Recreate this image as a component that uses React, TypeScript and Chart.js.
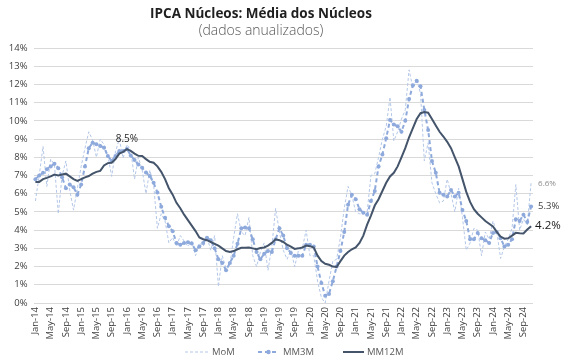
import { useEffect, useRef } from "react";
import { Chart, registerables } from "chart.js";

Chart.register(...registerables);

// ---------- data ----------
const MONTHS = ["Jan", "Feb", "Mar", "Apr", "May", "Jun", "Jul", "Aug", "Sep", "Oct", "Nov", "Dec"];
const YEARS = ["14", "15", "16", "17", "18", "19", "20", "21", "22", "23", "24"];
const LAST_MONTH_2024 = 11; // series ends Nov-24
const categories: string[] = [];
YEARS.forEach((yy, yi) => {
  const n = yi === YEARS.length - 1 ? LAST_MONTH_2024 : 12;
  for (let m = 0; m < n; m++) categories.push(`${MONTHS[m]}-${yy}`);
});

const yTickValues = [0, 1, 2, 3, 4, 5, 6, 7, 8, 9, 10, 11, 12, 13, 14];

const momValues = [
  5.6, 7.0, 8.6, 6.4, 7.9, 7.6, 4.9, 7.0, 7.8, 6.2, 5.1, 6.3,
  7.5, 8.5, 9.4, 8.95, 8.0, 9.0, 8.7, 8.1, 6.95, 8.3, 9.0, 7.95,
  8.7, 8.4, 6.8, 8.0, 7.3, 6.0, 7.3, 6.5, 4.1, 4.9, 4.5, 3.3,
  3.6, 3.1, 3.7, 3.4, 3.1, 3.4, 2.6, 3.3, 3.1, 3.6, 2.9, 3.7,
  0.9, 2.6, 1.9, 2.1, 3.6, 4.9, 3.9, 3.7, 4.7, 2.6, 2.0, 2.8,
  3.3, 1.8, 3.1, 5.2, 3.9, 2.9, 2.4, 2.9, 2.0, 2.9, 3.0, 4.0,
  2.6, 2.6, 1.2, 0.3, 0.0, 1.2, 2.3, 2.4, 3.6, 5.2, 6.4, 5.9,
  5.0, 4.9, 4.9, 5.0, 7.0, 7.1, 8.0, 9.0, 9.7, 11.3, 8.9, 9.4,
  10.1, 10.6, 12.8, 11.8, 12.3, 11.5, 7.8, 8.8, 6.6, 6.0, 5.5, 5.6,
  6.8, 6.0, 5.0, 6.3, 4.7, 2.9, 3.3, 4.1, 4.0, 2.6, 3.9, 3.5,
  4.5, 3.9, 2.45, 3.1, 3.5, 4.1, 6.5, 4.0, 4.6, 4.3, 6.6,
];

const mm3mValues = [
  6.8, 7.0, 7.15, 7.35, 7.5, 7.65, 7.4, 6.9, 6.3, 6.5, 6.35, 5.95,
  6.5, 7.5, 8.5, 8.8, 8.72, 8.62, 8.53, 8.07, 7.8, 8.07, 8.35, 8.35,
  8.45, 8.1, 7.85, 7.6, 7.43, 7.16, 6.97, 6.6, 6.06, 5.28, 4.68, 4.22,
  3.94, 3.3, 3.2, 3.3, 3.34, 3.27, 2.9, 3.1, 3.3, 3.58, 3.45, 3.0,
  2.4, 2.2, 1.8, 2.2, 2.6, 3.25, 4.1, 4.15, 4.1, 3.5, 2.8, 2.4,
  2.7, 2.85, 2.8, 3.5, 4.1, 3.7, 3.0, 2.75, 2.6, 2.6, 2.6, 3.2,
  3.2, 3.1, 2.0, 1.1, 0.4, 0.5, 1.2, 2.0, 2.85, 3.9, 5.4, 5.95,
  5.7, 5.15, 4.95, 4.85, 5.6, 6.15, 7.5, 8.15, 9.05, 10.05, 9.8, 9.7,
  9.4, 10.0, 11.2, 11.95, 12.2, 11.9, 10.6, 9.5, 7.8, 7.15, 6.05, 5.95,
  5.85, 6.2, 5.85, 6.05, 5.1, 4.5, 3.5, 3.5, 3.85, 3.55, 3.45, 3.3,
  3.85, 3.9, 3.55, 3.1, 3.2, 3.5, 4.6, 4.5, 4.85, 4.45, 5.3,
];

const mm12mValues = [
  6.65, 6.65, 6.8, 6.87, 6.95, 7.05, 7.0, 7.05, 7.1, 6.95, 6.8, 6.7,
  6.8, 6.9, 6.97, 7.1, 7.2, 7.25, 7.55, 7.68, 7.7, 7.9, 8.2, 8.3,
  8.45, 8.35, 8.2, 8.08, 8.07, 7.9, 7.75, 7.7, 7.5, 7.2, 6.8, 6.3,
  5.95, 5.5, 5.2, 4.85, 4.55, 4.25, 3.95, 3.6, 3.5, 3.45, 3.35, 3.25,
  3.15, 3.0, 2.85, 2.8, 2.85, 2.95, 3.03, 3.03, 3.05, 3.0, 2.95, 3.02,
  3.05, 3.15, 3.3, 3.5, 3.45, 3.35, 3.2, 3.1, 2.97, 3.0, 3.05, 3.15,
  3.12, 3.05, 2.6, 2.3, 2.15, 2.1, 2.0, 1.98, 2.3, 2.6, 2.8, 2.95,
  3.05, 3.3, 3.7, 4.3, 4.8, 5.35, 5.7, 6.15, 6.6, 6.95, 7.15, 7.5,
  8.0, 8.5, 9.1, 9.6, 10.1, 10.42, 10.48, 10.45, 10.1, 9.75, 9.4, 9.14,
  8.85, 8.5, 8.0, 7.5, 6.8, 6.1, 5.55, 5.15, 4.9, 4.7, 4.5, 4.35,
  4.2, 3.9, 3.65, 3.53, 3.55, 3.7, 3.85, 3.83, 3.82, 4.03, 4.22,
];

const TITLE = "IPCA Núcleos: Média dos Núcleos";
const SUBTITLE = "(dados anualizados)";
const seriesNames = ["MoM", "MM3M", "MM12M"];
const peakIndex = 24;
const peakText = "8.5%";

// ---------- styles ----------
const FONT = "'Open Sans', 'Noto Sans', sans-serif";
const C_MOM = "#B4C7E7";
const C_MM3M = "#8EA9DB";
const C_MM12M = "#44546A";
const C_TEXT = "#595959";
const C_TICK = "#404040";

const pct = (v: number) => `${v.toFixed(1)}%`;

const overlay = {
  id: "overlay",
  afterDraw(chart: any) {
    const { ctx } = chart;
    const x = chart.scales.x;
    const y = chart.scales.y;
    ctx.save();

    // title + subtitle
    ctx.textAlign = "center";
    ctx.textBaseline = "middle";
    ctx.fillStyle = "#1f1f1f";
    ctx.font = `bold 13.5px ${FONT}`;
    ctx.fillText(TITLE, 261, 14);
    ctx.fillStyle = C_TEXT;
    ctx.font = `300 14px ${FONT}`;
    ctx.fillText(SUBTITLE, 261, 31);

    // peak label on MM12M
    ctx.fillStyle = "#262626";
    ctx.font = `10px ${FONT}`;
    ctx.textBaseline = "bottom";
    ctx.fillText(peakText, x.getPixelForValue(peakIndex), y.getPixelForValue(mm12mValues[peakIndex]) - 5);

    // end labels
    const last = categories.length - 1;
    ctx.textAlign = "left";
    ctx.textBaseline = "middle";
    const endX = x.getPixelForValue(last);
    ctx.fillStyle = "#8C8C8C";
    ctx.font = `8px ${FONT}`;
    ctx.fillText(pct(momValues[last]), endX + 7, y.getPixelForValue(momValues[last]) + 1);
    ctx.fillStyle = "#404040";
    ctx.font = `9.5px ${FONT}`;
    ctx.fillText(pct(mm3mValues[last]), endX + 7, y.getPixelForValue(mm3mValues[last]));
    ctx.fillStyle = "#1a1a1a";
    ctx.font = `11.5px ${FONT}`;
    ctx.fillText(pct(mm12mValues[last]), endX + 4, y.getPixelForValue(mm12mValues[last]));

    // legend
    const ly = 352;
    ctx.font = `9.5px ${FONT}`;
    ctx.fillStyle = C_TEXT;
    ctx.textBaseline = "middle";
    // MoM
    ctx.strokeStyle = C_MOM;
    ctx.lineWidth = 1;
    ctx.setLineDash([3, 2]);
    ctx.beginPath();
    ctx.moveTo(185, ly);
    ctx.lineTo(208, ly);
    ctx.stroke();
    ctx.fillText(seriesNames[0], 212, ly);
    // MM3M
    ctx.strokeStyle = C_MM3M;
    ctx.lineWidth = 2;
    ctx.setLineDash([4, 3]);
    ctx.beginPath();
    ctx.moveTo(258, ly);
    ctx.lineTo(279, ly);
    ctx.stroke();
    ctx.setLineDash([]);
    ctx.fillStyle = C_MM3M;
    ctx.beginPath();
    ctx.arc(268.5, ly, 2.2, 0, Math.PI * 2);
    ctx.fill();
    ctx.fillStyle = C_TEXT;
    ctx.fillText(seriesNames[1], 283, ly);
    // MM12M
    ctx.strokeStyle = C_MM12M;
    ctx.lineWidth = 2;
    ctx.beginPath();
    ctx.moveTo(343, ly);
    ctx.lineTo(364, ly);
    ctx.stroke();
    ctx.fillText(seriesNames[2], 367, ly);

    ctx.restore();
  },
};

export default function App() {
  const ref = useRef<HTMLCanvasElement | null>(null);

  useEffect(() => {
    if (!ref.current) return;
    const chart = new Chart(ref.current, {
      type: "line",
      data: {
        labels: categories,
        datasets: [
          {
            label: seriesNames[0],
            data: momValues,
            borderColor: C_MOM,
            backgroundColor: C_MOM,
            borderWidth: 1,
            borderDash: [3, 2],
            pointRadius: 0,
            tension: 0,
            order: 3,
          },
          {
            label: seriesNames[1],
            data: mm3mValues,
            borderColor: C_MM3M,
            backgroundColor: C_MM3M,
            borderWidth: 2,
            borderDash: [4, 3],
            pointRadius: 2,
            pointBorderWidth: 0,
            pointBackgroundColor: C_MM3M,
            tension: 0,
            order: 2,
          },
          {
            label: seriesNames[2],
            data: mm12mValues,
            borderColor: C_MM12M,
            backgroundColor: C_MM12M,
            borderWidth: 2,
            pointRadius: 0,
            tension: 0,
            order: 1,
          },
        ],
      },
      options: {
        responsive: false,
        animation: false,
        devicePixelRatio: 1,
        layout: { padding: { left: 0, right: 51, top: 48, bottom: 0 } },
        plugins: {
          legend: { display: false },
          title: { display: false },
          tooltip: { enabled: false },
        },
        scales: {
          x: {
            offset: true,
            grid: { display: false, drawTicks: false },
            border: { display: false },
            ticks: {
              autoSkip: false,
              maxRotation: 90,
              minRotation: 90,
              padding: 4,
              color: C_TICK,
              font: { family: FONT, size: 9.5 },
              callback: (_v: any, i: number) => (i % 4 === 0 ? categories[i] : ""),
            },
            afterFit: (s: any) => {
              s.height = 60;
            },
          },
          y: {
            min: 0,
            max: 14,
            afterBuildTicks: (s: any) => {
              s.ticks = yTickValues.map((v) => ({ value: v }));
            },
            ticks: {
              padding: 6,
              color: C_TICK,
              font: { family: FONT, size: 9.5 },
              callback: (v: any) => `${v}%`,
            },
            grid: { color: "#D9D9D9", drawTicks: false, lineWidth: 1 },
            border: { display: false },
            afterFit: (s: any) => {
              s.width = 33.5;
            },
          },
        },
      } as any,
      plugins: [overlay],
    });
    return () => chart.destroy();
  }, []);

  return (
    <div style={{ position: "fixed", left: 0, top: 0, width: 584, height: 363, background: "#fff" }}>
      <canvas ref={ref} width={584} height={363} style={{ display: "block" }} />
    </div>
  );
}
